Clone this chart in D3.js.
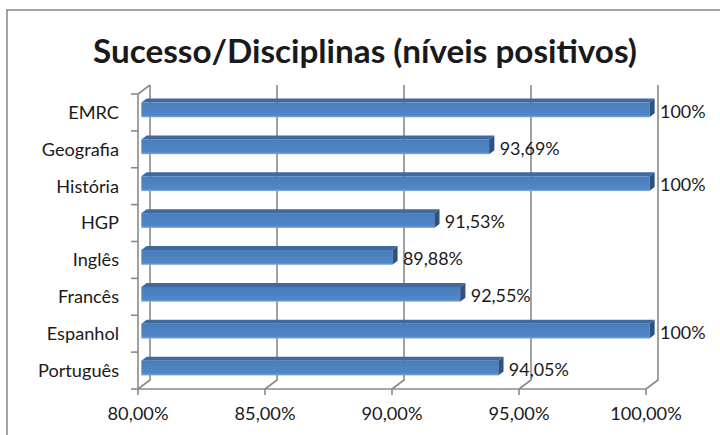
<!DOCTYPE html>
<html>
<head>
<meta charset="utf-8">
<script src="https://cdn.jsdelivr.net/npm/d3@7"></script>
<style>
  html, body { margin: 0; padding: 0; background: #fff; }
  svg { display: block; }
  text { font-family: Lato, "Open Sans", "DejaVu Sans", sans-serif; fill: #1a1a1a; }
</style>
</head>
<body>
<svg id="chart" width="720" height="435"></svg>
<script>
const title = "Sucesso/Disciplinas (níveis positivos)";
const categories = ["EMRC", "Geografia", "História", "HGP", "Inglês", "Francês", "Espanhol", "Português"];
const values = [100, 93.69, 100, 91.53, 89.88, 92.55, 100, 94.05];
const valueLabels = ["100%", "93,69%", "100%", "91,53%", "89,88%", "92,55%", "100%", "94,05%"];
const xTicks = [80, 85, 90, 95, 100];
const xTickLabels = ["80,00%", "85,00%", "90,00%", "95,00%", "100,00%"];

const svg = d3.select("#chart");
const W = 720, H = 435;

// chart outer border
svg.append("rect").attr("x", 7).attr("y", 10).attr("width", 730).attr("height", 440)
  .attr("fill", "#fff").attr("stroke", "#868686").attr("stroke-width", 1.5);

// geometry
const front = { left: 138, right: 646, top: 94, bottom: 389 };
const depth = { dx: 12, dy: -9 };
const x = d3.scaleLinear().domain([80, 100]).range([front.left, front.right]);
const y = d3.scaleBand().domain(categories).range([front.top, front.bottom])
  .paddingInner(0.6).paddingOuter(0.3);

const gridColor = "#8a8a8a";

// helper: fit font size so that a reference string has the target width
function fitSize(sample, targetWidth, weight) {
  const t = svg.append("text").attr("font-size", 100).attr("font-weight", weight || "normal").text(sample);
  const w = t.node().getComputedTextLength();
  t.remove();
  return 100 * targetWidth / w;
}

// Title
const titleSize = fitSize(title, 544, "bold");
svg.append("text").attr("x", 365).attr("y", 63).attr("text-anchor", "middle")
  .attr("font-size", titleSize).attr("font-weight", "bold").attr("fill", "#000").text(title);

// back wall gridlines + floor diagonals
const grid = svg.append("g").attr("stroke", gridColor).attr("stroke-width", 1.6).attr("fill", "none");
xTicks.forEach(t => {
  const xf = x(t);
  grid.append("path").attr("d", d3.line()([
    [xf, front.bottom],
    [xf + depth.dx, front.bottom + depth.dy],
    [xf + depth.dx, front.top + depth.dy]
  ]));
});
// left wall front edge & top diagonal
grid.append("path").attr("d", d3.line()([
  [front.left + depth.dx, front.top + depth.dy],
  [front.left, front.top],
  [front.left, front.bottom],
  [front.right, front.bottom]
]));
// left ticks at band boundaries
const step = y.step();
for (let i = 0; i <= categories.length; i++) {
  const yy = front.top + i * step;
  grid.append("line").attr("x1", front.left - 7).attr("x2", front.left).attr("y1", yy).attr("y2", yy);
}
// bottom ticks
xTicks.forEach(t => {
  grid.append("line").attr("x1", x(t)).attr("x2", x(t)).attr("y1", front.bottom).attr("y2", front.bottom + 6);
});

// 3D bars
const f1 = 0.28, f2 = 0.72;
const d1 = [depth.dx * f1, depth.dy * f1], d2 = [depth.dx * f2, depth.dy * f2];
const defs = svg.append("defs");
const grad = defs.append("linearGradient").attr("id", "frontGrad").attr("x1", 0).attr("y1", 0).attr("x2", 0).attr("y2", 1);
grad.append("stop").attr("offset", "0%").attr("stop-color", "#4a7cba");
grad.append("stop").attr("offset", "85%").attr("stop-color", "#5087c6");
grad.append("stop").attr("offset", "100%").attr("stop-color", "#7fa6d6");

const bars = svg.append("g");
categories.forEach((c, i) => {
  const v = values[i];
  const x0 = x(80), x1 = x(v);
  const yb = y(c), h = y.bandwidth();
  const g = bars.append("g");
  // top face
  g.append("path").attr("fill", "#3f6a9f").attr("d", d3.line()([
    [x0 + d1[0], yb + d1[1]], [x1 + d1[0], yb + d1[1]],
    [x1 + d2[0], yb + d2[1]], [x0 + d2[0], yb + d2[1]]
  ]) + "Z");
  // side face
  g.append("path").attr("fill", "#2e5283").attr("d", d3.line()([
    [x1 + d1[0], yb + d1[1]], [x1 + d2[0], yb + d2[1]],
    [x1 + d2[0], yb + h + d2[1]], [x1 + d1[0], yb + h + d1[1]]
  ]) + "Z");
  // front face
  g.append("rect").attr("x", x0 + d1[0]).attr("y", yb + d1[1])
    .attr("width", x1 - x0).attr("height", h).attr("fill", "url(#frontGrad)");
});

// value labels
const valSize = fitSize("89,88%", 60);
svg.append("g").selectAll("text").data(categories).join("text")
  .attr("x", (c, i) => x(values[i]) + 14)
  .attr("y", c => y(c) + y.bandwidth() / 2 - 1)
  .attr("dy", "0.35em")
  .attr("font-size", valSize)
  .text((c, i) => valueLabels[i]);

// category labels
const catSize = fitSize("Português", 81);
svg.append("g").selectAll("text").data(categories).join("text")
  .attr("x", 119)
  .attr("y", c => y(c) + y.bandwidth() / 2)
  .attr("dy", "0.35em")
  .attr("text-anchor", "end")
  .attr("font-size", catSize)
  .text(c => c);

// x tick labels
const tickSize = fitSize("95,00%", 61);
svg.append("g").selectAll("text").data(xTicks).join("text")
  .attr("x", d => x(d))
  .attr("y", 420)
  .attr("text-anchor", "middle")
  .attr("font-size", tickSize)
  .text((d, i) => xTickLabels[i]);
</script>
</body>
</html>
